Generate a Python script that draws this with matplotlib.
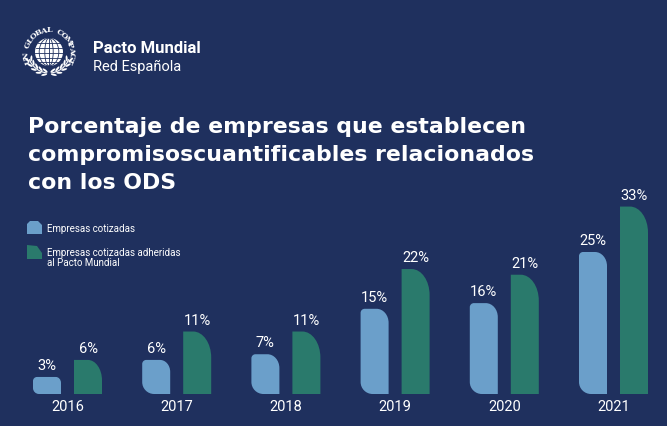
import numpy as np
import matplotlib.pyplot as plt
from matplotlib.path import Path
from matplotlib.patches import PathPatch, Circle, Ellipse, Arc

years = ['2016', '2017', '2018', '2019', '2020', '2021']
cotizadas = [3, 6, 7, 15, 16, 25]
adheridas = [6, 11, 11, 22, 21, 33]
title_lines = ['Porcentaje de empresas que establecen',
               'compromisoscuantificables relacionados',
               'con los ODS']

BG = '#1f305e'
BLUE = '#6b9fca'
GREEN = '#2a7a6c'
NARROW = ['Roboto', 'DejaVu Sans']

W, H = 667, 427
fig = plt.figure(figsize=(W / 100, H / 100), dpi=100, facecolor=BG)

# bar axes covers the whole figure
ax = fig.add_axes([0, 0, 1, 1])
ax.set_facecolor(BG)
ax.axis('off')
step = 109.2   # px between groups
unit = 5.68    # px per percent
x0 = 67.5
base = 395
ax.set_xlim(-x0 / step, (W - x0) / step)
ax.set_ylim(-(H - base) / unit, base / unit)

K = 0.5523


def rbar(x, w, h, tl=(0, 0), tr=(0, 0), br=(0, 0), bl=(0, 0), frac=0.5):
    hp = h * unit

    def conv(r):
        rx, ry = r
        if ry > hp * frac:
            rx = rx * hp * frac / ry
            ry = hp * frac
        return rx / step, ry / unit
    tl, tr, br, bl = map(conv, (tl, tr, br, bl))
    x1, x2 = x - w / 2, x + w / 2
    v = [(x1 + bl[0], 0), (x2 - br[0], 0)]
    c = [Path.MOVETO, Path.LINETO]
    if br[0]:
        v += [(x2 - br[0] + K * br[0], 0), (x2, br[1] - K * br[1]), (x2, br[1])]
        c += [Path.CURVE4] * 3
    v.append((x2, h - tr[1])); c.append(Path.LINETO)
    if tr[0]:
        v += [(x2, h - tr[1] + K * tr[1]), (x2 - tr[0] + K * tr[0], h), (x2 - tr[0], h)]
        c += [Path.CURVE4] * 3
    v.append((x1 + tl[0], h)); c.append(Path.LINETO)
    if tl[0]:
        v += [(x1 + tl[0] - K * tl[0], h), (x1, h - tl[1] + K * tl[1]), (x1, h - tl[1])]
        c += [Path.CURVE4] * 3
    v.append((x1, bl[1])); c.append(Path.LINETO)
    if bl[0]:
        v += [(x1, bl[1] - K * bl[1]), (x1 + bl[0] - K * bl[0], 0), (x1 + bl[0], 0)]
        c += [Path.CURVE4] * 3
    v.append((0, 0)); c.append(Path.CLOSEPOLY)
    return Path(v, c)


bw = 28 / step
off = 20.5 / step
lab = 12 / unit
for i, yr in enumerate(years):
    b, g = cotizadas[i], adheridas[i]
    ax.add_patch(PathPatch(rbar(i - off, bw, b, tl=(4, 4), tr=(12, 14), bl=(12, 12), frac=0.35),
                           fc=BLUE, ec='none'))
    ax.add_patch(PathPatch(rbar(i + off, bw, g, tr=(18, 26), frac=0.6),
                           fc=GREEN, ec='none'))
    ax.text(i - off, b + lab, f'{b}%', ha='center', va='center', color='white',
            fontsize=10.5, family=NARROW)
    ax.text(i + off, g + lab, f'{g}%', ha='center', va='center', color='white',
            fontsize=10.5, family=NARROW)
    ax.text(i, -12 / unit, yr, ha='center', va='center', color='white',
            fontsize=10.5, family=NARROW)

# title
for k, line in enumerate(title_lines):
    fig.text(28 / W, 1 - (133 + 28 * k) / H, line, color='white', fontsize=15.8,
             fontweight='bold', family='DejaVu Sans', va='baseline', ha='left')

# overlay in pixel coords for logo and legend
px = fig.add_axes([0, 0, 1, 1])
px.set_xlim(0, W)
px.set_ylim(H, 0)
px.axis('off')

# legend
px.add_patch(PathPatch(Path([(27, 235), (42, 235), (42, 226), (38, 222), (30, 222), (27, 225), (27, 235)]),
                       fc=BLUE, ec='none'))
px.add_patch(PathPatch(Path([(27, 260), (42, 260), (42, 254), (37, 247), (27, 246), (27, 260)]),
                       fc=GREEN, ec='none'))
px.text(47, 229, 'Empresas cotizadas', color='white', fontsize=7, family=NARROW, va='center')
px.text(47, 253, 'Empresas cotizadas adheridas', color='white', fontsize=7, family=NARROW, va='center')
px.text(47, 263.5, 'al Pacto Mundial', color='white', fontsize=7, family=NARROW, va='center')

# logo
cx, cy, r = 49, 53, 14
px.add_patch(Circle((cx, cy), r, fc='white', ec='none'))
for w_ in [0.3, 0.7]:
    px.add_patch(Ellipse((cx, cy), 2 * r * w_, 2 * r, fc='none', ec=BG, lw=0.6))
px.plot([cx, cx], [cy - r, cy + r], color=BG, lw=0.6)
for dy in [-9, -4, 1, 6, 10]:
    hw = np.sqrt(r ** 2 - dy ** 2)
    px.plot([cx - hw, cx + hw], [cy + dy, cy + dy], color=BG, lw=0.6)
txt = 'UN GLOBAL COMPACT'
angs = np.linspace(200, -20, len(txt))
for ch, a in zip(txt, angs):
    t = np.radians(a)
    px.text(cx + 22.5 * np.cos(t), cy - 22.5 * np.sin(t), ch, rotation=a - 90,
            ha='center', va='center', color='white', fontsize=5.8, fontweight='bold',
            family='DejaVu Serif')
# laurel branches
rl = 21
px.add_patch(Arc((cx, cy), 2 * rl, 2 * rl, theta1=20, theta2=85, color='white', lw=0.8))
px.add_patch(Arc((cx, cy), 2 * rl, 2 * rl, theta1=95, theta2=160, color='white', lw=0.8))
for side in (-1, 1):
    for j, a in enumerate(np.linspace(200, 258, 5)):
        t = np.radians(a)
        for d in (-1, 1):
            rr = rl + d * 2.2
            ex = cx + side * -rr * np.cos(t)
            ey = cy - rr * np.sin(t)
            tang = a - 90 + d * 25
            ang = tang if side < 0 else 180 - tang
            px.add_patch(Ellipse((ex, ey), 6, 2.0, angle=-ang, fc='white', ec='none'))

px.text(93, 53, 'Pacto Mundial', color='white', fontsize=12, fontweight='bold',
        family='Roboto', va='baseline')
px.text(93, 71, 'Red Española', color='white', fontsize=10.5,
        family='Roboto', va='baseline')

fig.savefig('out.png', dpi=100, facecolor=BG)
